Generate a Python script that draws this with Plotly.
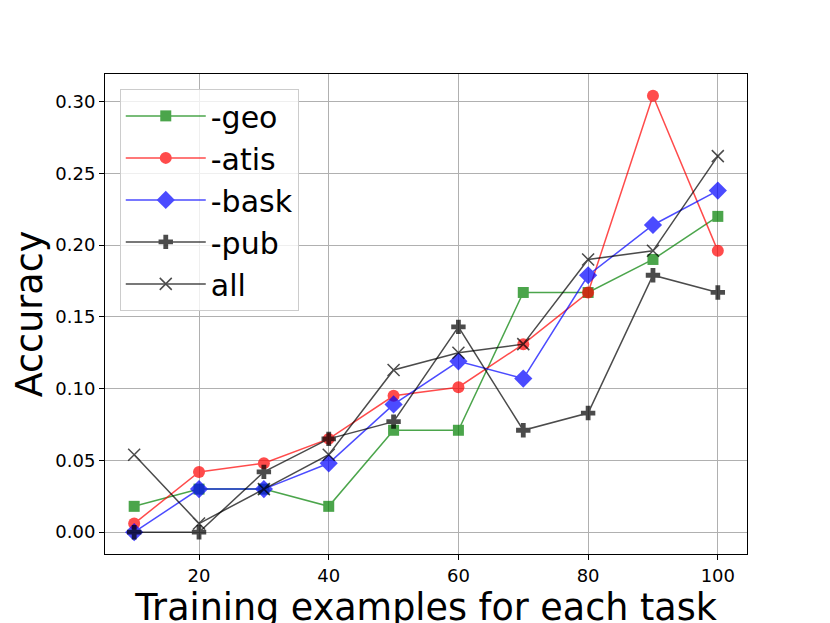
import plotly.graph_objects as go

x_vals = [10, 20, 30, 40, 50, 60, 70, 80, 90, 100]
geo = [0.018, 0.030, 0.030, 0.018, 0.071, 0.071, 0.167, 0.167, 0.190, 0.220]
atis = [0.006, 0.042, 0.048, 0.065, 0.095, 0.101, 0.131, 0.167, 0.304, 0.196]
bask = [0.0, 0.030, 0.030, 0.048, 0.089, 0.119, 0.107, 0.179, 0.214, 0.238]
pub = [0.0, 0.0, 0.042, 0.065, 0.077, 0.143, 0.071, 0.083, 0.179, 0.167]
all_ = [0.054, 0.006, 0.030, 0.054, 0.113, 0.125, 0.131, 0.190, 0.196, 0.262]

series = [
    ("-geo", geo, "green", "square", 11),
    ("-atis", atis, "red", "circle", 12),
    ("-bask", bask, "blue", "diamond", 14),
    ("-pub", pub, "black", "cross", 12),
    ("all", all_, "black", "x-thin", 12),
]

fig = go.Figure()
for name, ys, color, sym, size in series:
    marker = dict(symbol=sym, size=size, color=color)
    if sym == "x-thin":
        marker["line"] = dict(color=color, width=1.5)
    fig.add_trace(go.Scatter(
        x=x_vals, y=ys, name=name, mode="lines+markers",
        line=dict(color=color, width=1.5),
        marker=marker, opacity=0.7,
    ))

axis_common = dict(
    showgrid=True, gridcolor="#b0b0b0", gridwidth=1,
    showline=True, linecolor="black", linewidth=1, mirror=True,
    ticks="outside", ticklen=5, tickcolor="black",
    tickfont=dict(family="DejaVu Sans", size=18, color="black"),
    zeroline=False,
)

# page body has an 8px default margin; shift margins to compensate
fig.update_layout(
    width=830, height=623,
    paper_bgcolor="white", plot_bgcolor="white",
    margin=dict(l=95, r=91, t=66, b=77),
    font=dict(family="DejaVu Sans", color="black"),
    xaxis=dict(range=[5.5, 104.5], tickvals=[20, 40, 60, 80, 100],
               title=dict(text="Training examples for each task",
                          font=dict(size=36.5), standoff=2),
               **axis_common),
    yaxis=dict(range=[-0.0152, 0.3192], tickvals=[0, 0.05, 0.10, 0.15, 0.20, 0.25, 0.30],
               tickformat=".2f",
               title=dict(text="Accuracy", font=dict(size=36.5), standoff=10),
               **axis_common),
    legend=dict(x=0.023, y=0.969, xanchor="left", yanchor="top",
                bgcolor="rgba(255,255,255,0.8)", bordercolor="#cccccc", borderwidth=1,
                font=dict(size=30, family="DejaVu Sans"), itemwidth=80,
                tracegroupgap=0),
    showlegend=True,
)

fig.write_html("out.html")
